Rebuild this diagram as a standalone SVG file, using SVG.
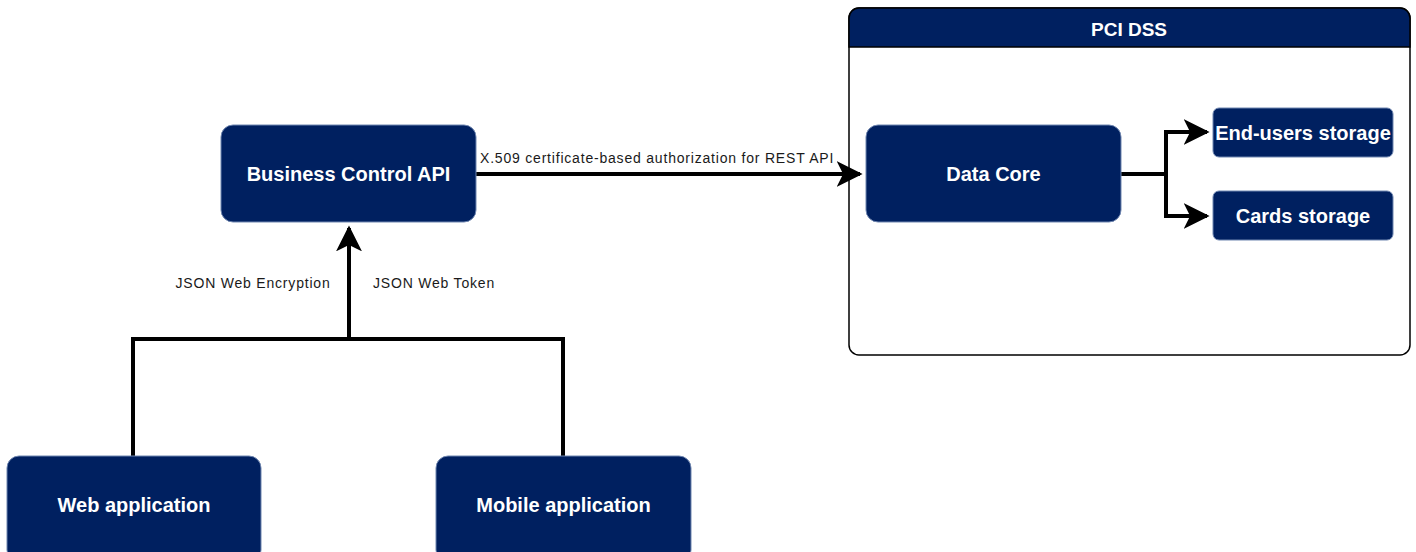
<svg xmlns="http://www.w3.org/2000/svg" width="1416" height="552" viewBox="0 0 1416 552">
<style>
.node{fill:#002060;stroke:#6f86b0;stroke-width:1}
.lbl{font-family:"Liberation Sans",Arial,sans-serif;font-weight:bold;font-size:20px;fill:#ffffff;text-anchor:middle;dominant-baseline:central}
.edge{fill:none;stroke:#000000;stroke-width:4}
.elbl{font-family:"Liberation Sans",Arial,sans-serif;font-size:14px;letter-spacing:0.8px;fill:#1a1a1a}
</style>
<defs>
<marker id="ah" viewBox="0 0 10 10" refX="9" refY="5" markerWidth="6.5" markerHeight="6.5" orient="auto">
<path d="M0,0 L10,5 L0,10 L2.5,5 Z" fill="#000"/>
</marker>
</defs>
<rect width="1416" height="552" fill="#ffffff"/>
<g id="pci-dss">
<rect x="849" y="8" width="561" height="347" rx="10" fill="#ffffff" stroke="#000" stroke-width="1.5"/>
<path d="M849,47 V18 A10,10 0 0 1 859,8 H1400 A10,10 0 0 1 1410,18 V47 Z" fill="#002060" stroke="#000" stroke-width="1.5"/>
<text x="1129" y="29" class="lbl" style="font-size:19px">PCI DSS</text>
</g>
<g id="connectors">
<path class="edge" d="M476,174 H860" marker-end="url(#ah)"/>
<text x="480" y="163" class="elbl">X.509 certificate-based authorization for REST API</text>
<path class="edge" d="M133,456 V339 H563 V456"/>
<path class="edge" d="M349,339 V228" marker-end="url(#ah)"/>
<text x="253" y="288" class="elbl" text-anchor="middle">JSON Web Encryption</text>
<text x="434" y="288" class="elbl" text-anchor="middle">JSON Web Token</text>
<path class="edge" d="M1121,174 H1166 V132 H1207" marker-end="url(#ah)"/>
<path class="edge" d="M1166,174 V216 H1207" marker-end="url(#ah)"/>
</g>
<g id="business-control-api">
<rect class="node" x="221" y="125" width="255" height="97" rx="12"/>
<text x="348.5" y="174" class="lbl">Business Control API</text>
</g>
<g id="data-core">
<rect class="node" x="866" y="125" width="255" height="97" rx="12"/>
<text x="993.5" y="174" class="lbl">Data Core</text>
</g>
<g id="end-users-storage">
<rect class="node" x="1213" y="108" width="180" height="49" rx="6"/>
<text x="1303" y="133" class="lbl">End-users storage</text>
</g>
<g id="cards-storage">
<rect class="node" x="1213" y="191" width="180" height="49" rx="6"/>
<text x="1303" y="216" class="lbl">Cards storage</text>
</g>
<g id="web-application">
<rect class="node" x="7" y="456" width="254" height="106" rx="12"/>
<text x="134" y="505" class="lbl">Web application</text>
</g>
<g id="mobile-application">
<rect class="node" x="436" y="456" width="255" height="106" rx="12"/>
<text x="563.5" y="505" class="lbl">Mobile application</text>
</g>
</svg>
